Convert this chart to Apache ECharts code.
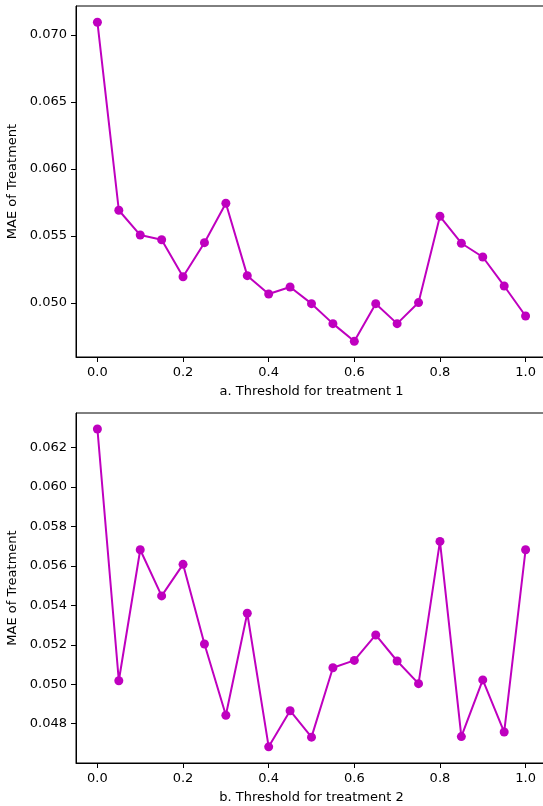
<!DOCTYPE html>
<html><head><meta charset="utf-8">
<script src="https://cdn.jsdelivr.net/npm/echarts@6/dist/echarts.min.js"></script>
<style>html,body{margin:0;padding:0;background:#fff}#c{width:543px;height:806px}</style>
</head><body><div id="c"></div>
<script>
const thresholds = [0.0,0.05,0.10,0.15,0.20,0.25,0.30,0.35,0.40,0.45,0.50,0.55,0.60,0.65,0.70,0.75,0.80,0.85,0.90,0.95,1.00];
const maeTreatment1 = [0.07095,0.05692,0.05507,0.05472,0.05196,0.05450,0.05744,0.05204,0.05067,0.05119,0.04995,0.04846,0.04714,0.04995,0.04846,0.05003,0.05647,0.05446,0.05343,0.05127,0.04903];
const maeTreatment2 = [0.06294,0.05018,0.05682,0.05448,0.05608,0.05204,0.04843,0.05360,0.04683,0.04866,0.04732,0.05084,0.05121,0.05250,0.05118,0.05003,0.05724,0.04735,0.05022,0.04758,0.05682];
const xTicks = [0.0,0.2,0.4,0.6,0.8,1.0];
const yTicks1 = [0.050,0.055,0.060,0.065,0.070];
const yTicks2 = [0.048,0.050,0.052,0.054,0.056,0.058,0.060,0.062];
const xNames = ['a. Threshold for treatment 1','b. Threshold for treatment 2'];
const yName = 'MAE of Treatment';

const FONT = 'DejaVu Sans';
const FS = 13;
const color = '#bf00bf';
function xAx(i){
  return {type:'value', gridIndex:i, min:-0.05, max:1.05,
    name:xNames[i], nameLocation:'middle', nameGap:28,
    nameTextStyle:{fontFamily:FONT,fontSize:FS,color:'#000'},
    axisLine:{show:true,onZero:false,lineStyle:{color:'#000',width:1}},
    axisTick:{show:true,inside:false,length:5,customValues:xTicks,lineStyle:{color:'#000'}},
    axisLabel:{customValues:xTicks,margin:9,fontFamily:FONT,fontSize:FS,color:'#000',formatter:v=>v.toFixed(1)},
    splitLine:{show:false}};
}
function yAx(i,ticks,min,max){
  return {type:'value', gridIndex:i, min:min, max:max,
    name:yName, nameLocation:'middle', nameGap:51, nameRotate:90,
    nameTextStyle:{fontFamily:FONT,fontSize:FS,color:'#000'},
    axisLine:{show:true,onZero:false,lineStyle:{color:'#000',width:1}},
    axisTick:{show:true,inside:false,length:5,customValues:ticks,lineStyle:{color:'#000'}},
    axisLabel:{customValues:ticks,margin:9,fontFamily:FONT,fontSize:FS,color:'#000',formatter:v=>v.toFixed(3)},
    splitLine:{show:false}};
}
const chart = echarts.init(document.getElementById('c'),null,{renderer:'canvas'});
chart.setOption({
  animation:false,
  backgroundColor:'#fff',
  grid:[
    {left:76,top:6,width:471,height:351,show:true,borderColor:'#000',borderWidth:1,backgroundColor:'transparent',outerBoundsMode:'none',containLabel:false},
    {left:76,top:413,width:471,height:350,show:true,borderColor:'#000',borderWidth:1,backgroundColor:'transparent',outerBoundsMode:'none',containLabel:false}
  ],
  xAxis:[xAx(0),xAx(1)],
  yAxis:[yAx(0,yTicks1,0.04597,0.07216),yAx(1,yTicks2,0.04601,0.06375)],
  series:[
    {type:'line',xAxisIndex:0,yAxisIndex:0,data:thresholds.map((x,k)=>[x,maeTreatment1[k]]),
     symbol:'circle',symbolSize:9,lineStyle:{color:color,width:2},itemStyle:{color:color}},
    {type:'line',xAxisIndex:1,yAxisIndex:1,data:thresholds.map((x,k)=>[x,maeTreatment2[k]]),
     symbol:'circle',symbolSize:9,lineStyle:{color:color,width:2},itemStyle:{color:color}}
  ]
});
</script></body></html>
